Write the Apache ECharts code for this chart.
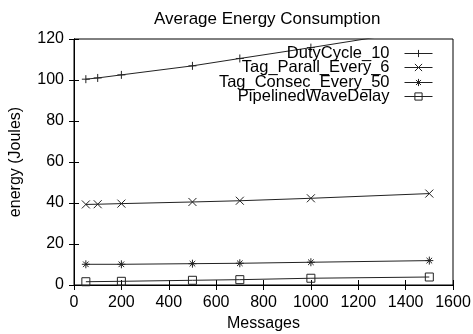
<!DOCTYPE html>
<html>
<head>
<meta charset="utf-8">
<script src="https://cdn.jsdelivr.net/npm/echarts@6/dist/echarts.min.js"></script>
<style>
  html, body { margin: 0; padding: 0; background: #fff; }
  #chart { width: 473px; height: 334px; }
</style>
</head>
<body>
<div id="chart"></div>
<script>
// messages sent (x) and energy in Joules (y) for each protocol
var msgs = [50, 100, 200, 500, 700, 1000, 1500];
var msgsNo100 = [50, 200, 500, 700, 1000, 1500];
var dutyCycle = [100.4, 101, 102.5, 106.9, 110.5, 115.8, 125];
var tagParall = [39.3, 39.4, 39.7, 40.5, 41.1, 42.3, 44.6];
var tagConsec = [10.1, 10.1, 10.4, 10.6, 11.1, 11.9];
var pipelined = [1.6, 1.8, 2.3, 2.6, 3.3, 3.9];
var seriesNames = ['DutyCycle_10', 'Tag_Parall_Every_6', 'Tag_Consec_Every_50', 'PipelinedWaveDelay'];

var FONT = 'Liberation Sans';

// gnuplot style point types
var SYM = {
    plus: 'path://M0,5L10,5M5,0L5,10',
    cross: 'path://M0,0L10,10M10,0L0,10',
    star: 'path://M0,5L10,5M5,0L5,10M1.5,1.5L8.5,8.5M8.5,1.5L1.5,8.5',
    box: 'path://M0,0L10,0L10,10L0,10Z'
};

function pairs(xs, ys) {
    return xs.map(function (x, i) { return [x, ys[i]]; });
}

function mkSeries(name, data, symbol) {
    return {
        name: name,
        type: 'line',
        data: data,
        symbol: symbol,
        symbolSize: 8,
        clip: true,
        lineStyle: { color: '#222', width: 1 },
        itemStyle: { color: 'none', borderColor: '#222', borderWidth: 1 },
        emphasis: { disabled: true },
        animation: false
    };
}

function mkLegend(name, top) {
    return {
        data: [name],
        right: 35,
        top: top,
        align: 'right',
        itemWidth: 28,
        itemHeight: 9,
        lineStyle: { width: 1, color: '#222' },
        itemStyle: { color: 'none', borderColor: '#222', borderWidth: 1 },
        textStyle: { fontFamily: FONT, fontSize: 16.5, color: '#000', padding: [0, 10, 0, 0] }
    };
}

var tickCommon = { show: true, inside: true, length: 5, lineStyle: { color: '#000' } };

var chart = echarts.init(document.getElementById('chart'));
chart.setOption({
    backgroundColor: '#fff',
    animation: false,
    title: {
        text: 'Average Energy Consumption',
        left: 149,
        top: 6,
        textStyle: { fontFamily: FONT, fontSize: 17, fontWeight: 'normal', color: '#000' }
    },
    legend: [
        mkLegend(seriesNames[0], 40),
        mkLegend(seriesNames[1], 54),
        mkLegend(seriesNames[2], 69),
        mkLegend(seriesNames[3], 83)
    ],
    grid: {
        left: 74, right: 20, top: 39, bottom: 49,
        outerBoundsMode: 'none',
        show: true, borderColor: '#000', borderWidth: 1
    },
    xAxis: [{
        type: 'value', min: 0, max: 1600, interval: 200,
        name: 'Messages', nameLocation: 'middle', nameGap: 30,
        nameTextStyle: { fontFamily: FONT, fontSize: 16, color: '#000' },
        axisLine: { show: true, lineStyle: { color: '#000' } },
        axisTick: tickCommon,
        axisLabel: { fontFamily: FONT, fontSize: 16, color: '#000', margin: 10, formatter: function (v) { return String(v); } },
        splitLine: { show: false }
    }, {
        type: 'value', min: 0, max: 1600, interval: 200, position: 'top',
        axisLine: { show: true, lineStyle: { color: '#000' } },
        axisTick: tickCommon,
        axisLabel: { show: false },
        splitLine: { show: false }
    }],
    yAxis: [{
        type: 'value', min: 0, max: 120, interval: 20,
        name: 'energy (Joules)', nameLocation: 'middle', nameGap: 50,
        nameTextStyle: { fontFamily: FONT, fontSize: 16, color: '#000' },
        axisLine: { show: true, lineStyle: { color: '#000' } },
        axisTick: tickCommon,
        axisLabel: { fontFamily: FONT, fontSize: 16, color: '#000', margin: 10 },
        splitLine: { show: false }
    }, {
        type: 'value', min: 0, max: 120, interval: 20, position: 'right',
        axisLine: { show: true, lineStyle: { color: '#000' } },
        axisTick: tickCommon,
        axisLabel: { show: false },
        splitLine: { show: false }
    }],
    series: [
        mkSeries(seriesNames[0], pairs(msgs, dutyCycle), SYM.plus),
        mkSeries(seriesNames[1], pairs(msgs, tagParall), SYM.cross),
        mkSeries(seriesNames[2], pairs(msgsNo100, tagConsec), SYM.star),
        mkSeries(seriesNames[3], pairs(msgsNo100, pipelined), SYM.box)
    ]
});
</script>
</body>
</html>
